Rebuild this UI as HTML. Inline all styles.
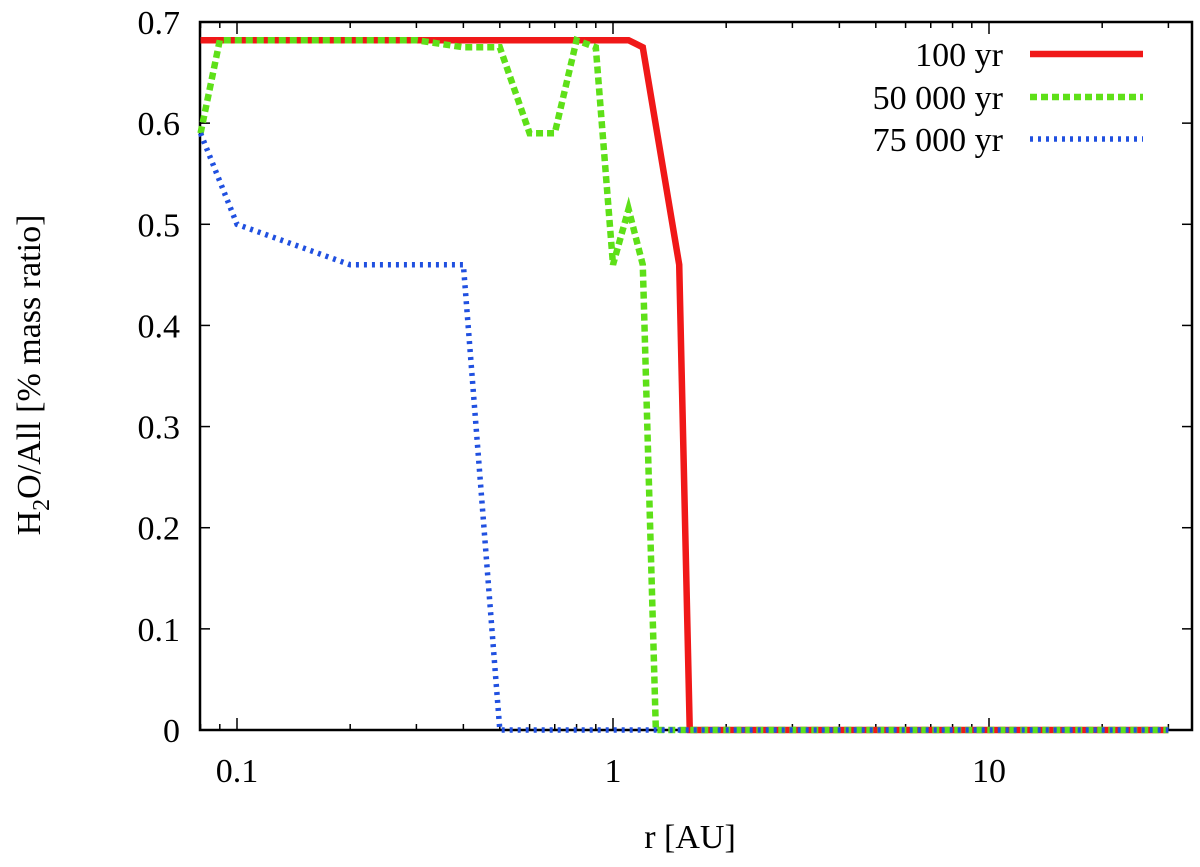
<!DOCTYPE html>
<html><head><meta charset="utf-8"><style>
body{margin:0;background:#fff}
svg text{font-family:"Liberation Serif","DejaVu Serif","Times New Roman",serif;fill:#000}
</style></head><body>
<svg id="c" width="1200" height="862"></svg>
<script>
const rRed=[0.08,1.1,1.2,1.5,1.6,30];
const vRed=[0.682,0.682,0.675,0.46,0,0];
const rGreen=[0.08,0.09,0.3,0.4,0.5,0.6,0.7,0.8,0.9,1.0,1.1,1.2,1.3,30];
const vGreen=[0.59,0.682,0.682,0.675,0.675,0.59,0.59,0.682,0.675,0.46,0.515,0.46,0,0];
const rBlue=[0.08,0.1,0.2,0.4,0.5,30];
const vBlue=[0.59,0.50,0.46,0.46,0,0];
const yTicks=[0,0.1,0.2,0.3,0.4,0.5,0.6,0.7];
const xMajor=[0.1,1,10];
const xMajorLabels=["0.1","1","10"];
const xMinor=[0.08,0.09,0.2,0.3,0.4,0.5,0.6,0.7,0.8,0.9,2,3,4,5,6,7,8,9,20,30];
const legendLabels=["100 yr","50 000 yr","75 000 yr"];

const L=200,R=1192,T=22,B=730;
const X=r=>613+376*Math.log10(r);
const Y=v=>730-v*(708/0.7);
const svg=document.getElementById('c');
const NS='http://www.w3.org/2000/svg';
const FF='"Liberation Serif","DejaVu Serif",serif';
function mk(tag,at,parent){const e=document.createElementNS(NS,tag);for(const k in at)e.setAttribute(k,at[k]);(parent||svg).appendChild(e);return e;}

const frame=mk('rect',{x:L,y:T,width:R-L,height:B-T,fill:'none',stroke:'#000','stroke-width':2.5});



yTicks.forEach(v=>{
 const g=mk('g',{});
 
 
 mk('line',{x1:L,x2:L+10,y1:Y(v),y2:Y(v),stroke:'#000','stroke-width':1.5},g);
 mk('line',{x1:R,x2:R-10,y1:Y(v),y2:Y(v),stroke:'#000','stroke-width':1.5},g);
 const t=mk('text',{x:L-20,y:Y(v)+12,'text-anchor':'end','font-size':34,'font-family':FF},g);
 t.textContent=v===0?'0':v.toFixed(1);
});
xMajor.forEach((r,i)=>{
 const g=mk('g',{});
 
 
 mk('line',{x1:X(r),x2:X(r),y1:B,y2:B-12,stroke:'#000','stroke-width':1.5},g);
 mk('line',{x1:X(r),x2:X(r),y1:T,y2:T+12,stroke:'#000','stroke-width':1.5},g);
 const t=mk('text',{x:X(r),y:B+52,'text-anchor':'middle','font-size':34,'font-family':FF},g);
 t.textContent=xMajorLabels[i];
});
xMinor.forEach(r=>{
 const g=mk('g',{});
 
 
 mk('line',{x1:X(r),x2:X(r),y1:B,y2:B-6,stroke:'#000','stroke-width':1.5},g);
 mk('line',{x1:X(r),x2:X(r),y1:T,y2:T+6,stroke:'#000','stroke-width':1.5},g);
});

const series=[
 {r:rRed,v:vRed,c:'#f01818',w:6.5,d:'',n:'series-100-yr'},
 {r:rGreen,v:vGreen,c:'#5ee018',w:6.5,d:'7,4',n:'series-50000-yr'},
 {r:rBlue,v:vBlue,c:'#2050e0',w:5.5,d:'3,5',n:'series-75000-yr'}
];
series.forEach((s,i)=>{
 const p=mk('polyline',{points:s.r.map((r,j)=>X(r)+','+Y(s.v[j])).join(' '),fill:'none',stroke:s.c,'stroke-width':s.w,'stroke-dasharray':s.d,'stroke-linejoin':'miter'});
 
 
 const ly=[54,97,139][i];
 const g=mk('g',{});
 
 
 const t=mk('text',{x:1003,y:ly+12,'text-anchor':'end','font-size':34,'font-family':FF},g);
 t.textContent=legendLabels[i];
 mk('line',{x1:1030,x2:1143,y1:ly,y2:ly,stroke:s.c,'stroke-width':s.w,'stroke-dasharray':s.d},g);
});

const xl=mk('text',{x:690,y:848,'text-anchor':'middle','font-size':34,'font-family':FF});
xl.textContent='r [AU]';


const yl=mk('text',{x:0,y:0,'text-anchor':'middle','font-size':34,'font-family':FF,transform:'translate(40,375) rotate(-90)'});


yl.innerHTML='H<tspan dy="9" font-size="24">2</tspan><tspan dy="-9">O/All [% mass ratio]</tspan>';
</script>
</body></html>
